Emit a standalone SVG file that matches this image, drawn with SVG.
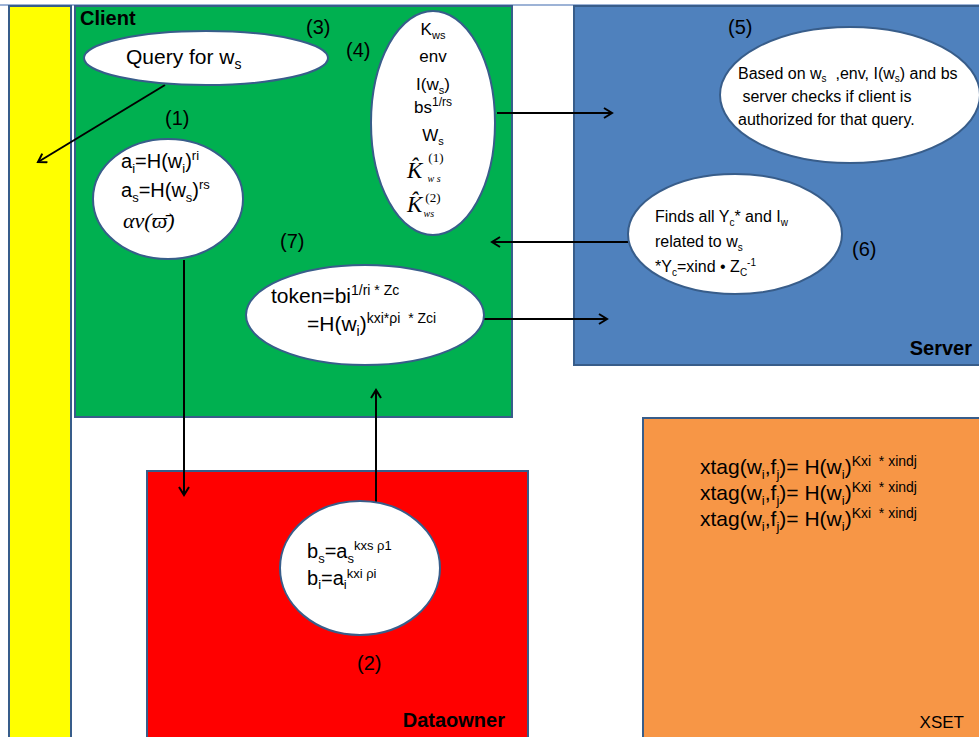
<svg xmlns="http://www.w3.org/2000/svg" width="979" height="737" viewBox="0 0 979 737">
  <style>
    .box { stroke: #385d8a; stroke-width: 2; }
    .oval { fill: #ffffff; stroke: #385d8a; stroke-width: 2; }
    .t { font-family: "Liberation Sans", Arial, sans-serif; fill: #000; }
    .title { font-family: "Liberation Sans", Arial, sans-serif; font-weight: bold; font-size: 20px; fill: #000; }
    .num { font-family: "Liberation Sans", Arial, sans-serif; font-size: 20px; fill: #000; }
    .math { font-family: "Liberation Serif", "Times New Roman", serif; font-style: italic; fill: #000; }
    .wire { stroke: #000; stroke-width: 2; fill: none; marker-end: url(#arr); }
  </style>
  <defs>
    <marker id="arr" markerWidth="12" markerHeight="12" refX="10" refY="6" orient="auto" markerUnits="userSpaceOnUse">
      <path d="M2,1 L10,6 L2,11" fill="none" stroke="#000" stroke-width="2"/>
    </marker>
  </defs>

  <rect x="0" y="0" width="979" height="737" fill="#ffffff"/>
  <line x1="0" y1="5" x2="979" y2="5" stroke="#9db3d6" stroke-width="2"/>

  <!-- side bar -->
  <g id="sidebar">
    <rect class="box" x="9" y="6" width="62" height="740" fill="#ffff00"/>
  </g>

  <!-- Client -->
  <g id="client">
    <rect class="box" x="75" y="6" width="437" height="411" fill="#00b050"/>
    <text class="title" x="80" y="25">Client</text>
  </g>

  <!-- Server -->
  <g id="server">
    <rect class="box" x="574" y="6" width="410" height="359" fill="#4f81bd"/>
    <text class="title" x="972" y="355" text-anchor="end">Server</text>
  </g>

  <!-- Dataowner -->
  <g id="dataowner">
    <rect class="box" x="147" y="471" width="381" height="275" fill="#ff0000"/>
    <text class="title" x="505" y="727" text-anchor="end" font-size="21">Dataowner</text>
  </g>

  <!-- XSET -->
  <g id="xset">
    <rect class="box" x="643" y="418" width="341" height="328" fill="#f79646"/>
    <text class="t" x="964" y="728" font-size="17" text-anchor="end">XSET</text>
    <g class="t" font-size="21">
      <text x="700" y="474">xtag(w<tspan font-size="13" dy="5">i</tspan><tspan dy="-5">,f</tspan><tspan font-size="13" dy="5">j</tspan><tspan dy="-5">)= H(w</tspan><tspan font-size="13" dy="5">i</tspan><tspan dy="-5">)</tspan><tspan font-size="14" dy="-8">Kxi&#160; * xindj</tspan></text>
      <text x="700" y="500">xtag(w<tspan font-size="13" dy="5">i</tspan><tspan dy="-5">,f</tspan><tspan font-size="13" dy="5">j</tspan><tspan dy="-5">)= H(w</tspan><tspan font-size="13" dy="5">i</tspan><tspan dy="-5">)</tspan><tspan font-size="14" dy="-8">Kxi&#160; * xindj</tspan></text>
      <text x="700" y="526">xtag(w<tspan font-size="13" dy="5">i</tspan><tspan dy="-5">,f</tspan><tspan font-size="13" dy="5">j</tspan><tspan dy="-5">)= H(w</tspan><tspan font-size="13" dy="5">i</tspan><tspan dy="-5">)</tspan><tspan font-size="14" dy="-8">Kxi&#160; * xindj</tspan></text>
    </g>
  </g>

  <!-- connectors -->
  <g id="connectors">
    <line class="wire" x1="165" y1="85" x2="38" y2="162"/>
    <line class="wire" x1="184" y1="260" x2="184" y2="495"/>
    <line class="wire" x1="376" y1="508" x2="376" y2="390"/>
    <line class="wire" x1="497" y1="113" x2="612" y2="113"/>
    <line class="wire" x1="628" y1="242" x2="492" y2="242"/>
    <line class="wire" x1="484" y1="319" x2="607" y2="319"/>
  </g>

  <!-- (3) query -->
  <g id="query">
    <ellipse class="oval" cx="206" cy="58" rx="122" ry="27"/>
    <text class="t" x="126" y="64" font-size="21">Query for w<tspan font-size="14" dy="5">s</tspan></text>
    <text class="num" x="306" y="34">(3)</text>
  </g>

  <!-- (1) blinding -->
  <g id="blind">
    <ellipse class="oval" cx="168" cy="199" rx="75" ry="60"/>
    <text class="num" x="165" y="125">(1)</text>
    <text class="t" x="121" y="168" font-size="20">a<tspan font-size="13" dy="5">i</tspan><tspan dy="-5">=H(w</tspan><tspan font-size="13" dy="5">i</tspan><tspan dy="-5">)</tspan><tspan font-size="13" dy="-8">ri</tspan></text>
    <text class="t" x="121" y="197" font-size="20">a<tspan font-size="13" dy="5">s</tspan><tspan dy="-5">=H(w</tspan><tspan font-size="13" dy="5">s</tspan><tspan dy="-5">)</tspan><tspan font-size="13" dy="-8">rs</tspan></text>
    <text class="math" x="123" y="228" font-size="22">αv(ϖ̄)</text>
  </g>

  <!-- (4) request bundle -->
  <g id="bundle">
    <ellipse class="oval" cx="433" cy="123" rx="62" ry="112"/>
    <text class="num" x="346" y="57">(4)</text>
    <g class="t" font-size="17" text-anchor="middle">
      <text x="433" y="35">K<tspan font-size="11" dy="4">ws</tspan></text>
      <text x="433" y="62">env</text>
      <text x="433" y="90">I(w<tspan font-size="11" dy="4">s</tspan><tspan dy="-4">)</tspan></text>
      <text x="433" y="113">bs<tspan font-size="12" dy="-7">1/rs</tspan></text>
      <text x="433" y="141">W<tspan font-size="11" dy="4">s</tspan></text>
    </g>
    <text class="math" x="407" y="178" font-size="23">K̂<tspan font-style="normal" font-size="13" dx="6" dy="-16">(1)</tspan><tspan font-size="10" dx="-16" dy="20">w s</tspan></text>
    <text class="math" x="407" y="212" font-size="23">K̂<tspan font-style="normal" font-size="13" dx="3" dy="-10">(2)</tspan><tspan font-size="10" dx="-17" dy="15">ws</tspan></text>
  </g>

  <!-- (7) token -->
  <g id="token">
    <ellipse class="oval" cx="365" cy="315" rx="119" ry="50"/>
    <text class="num" x="280" y="248">(7)</text>
    <text class="t" x="271" y="303" font-size="21">token=bi<tspan font-size="14" dy="-8">1/ri * Zc</tspan></text>
    <text class="t" x="307" y="331" font-size="21">=H(w<tspan font-size="14" dy="5">i</tspan><tspan dy="-5">)</tspan><tspan font-size="14" dy="-8">kxi*ρi&#160; * Zci</tspan></text>
  </g>

  <!-- (2) dataowner exponentiation -->
  <g id="exp">
    <ellipse class="oval" cx="360" cy="568" rx="80" ry="67"/>
    <text class="t" x="307" y="558" font-size="20">b<tspan font-size="13" dy="5">s</tspan><tspan dy="-5">=a</tspan><tspan font-size="13" dy="5">s</tspan><tspan font-size="13" dy="-13">kxs ρ1</tspan></text>
    <text class="t" x="307" y="585" font-size="20">b<tspan font-size="13" dy="4">i</tspan><tspan dy="-4">=a</tspan><tspan font-size="13" dy="4">i</tspan><tspan font-size="13" dy="-11">kxi ρi</tspan></text>
    <text class="num" x="357" y="670">(2)</text>
  </g>

  <!-- (5) authorization check -->
  <g id="authcheck">
    <ellipse class="oval" cx="850" cy="95" rx="130" ry="68"/>
    <text class="num" x="728" y="34">(5)</text>
    <g class="t" font-size="16">
      <text x="738" y="79">Based on w<tspan font-size="10" dy="3">s</tspan><tspan dy="-3">&#160; ,env, I(w</tspan><tspan font-size="10" dy="3">s</tspan><tspan dy="-3">) and bs</tspan></text>
      <text x="738" y="102">&#160;server checks if client is</text>
      <text x="738" y="125">authorized for that query.</text>
    </g>
  </g>

  <!-- (6) search -->
  <g id="search">
    <ellipse class="oval" cx="735" cy="234" rx="107" ry="60"/>
    <text class="num" x="852" y="256">(6)</text>
    <g class="t" font-size="16">
      <text x="655" y="222">Finds all Y<tspan font-size="10" dy="4">c</tspan><tspan dy="-4">* and I</tspan><tspan font-size="10" dy="4">w</tspan></text>
      <text x="655" y="247">related to w<tspan font-size="10" dy="4">s</tspan></text>
      <text x="655" y="272">*Y<tspan font-size="10" dy="4">c</tspan><tspan dy="-4">=xind • Z</tspan><tspan font-size="10" dy="4">C</tspan><tspan font-size="10" dy="-10">-1</tspan></text>
    </g>
  </g>
</svg>
